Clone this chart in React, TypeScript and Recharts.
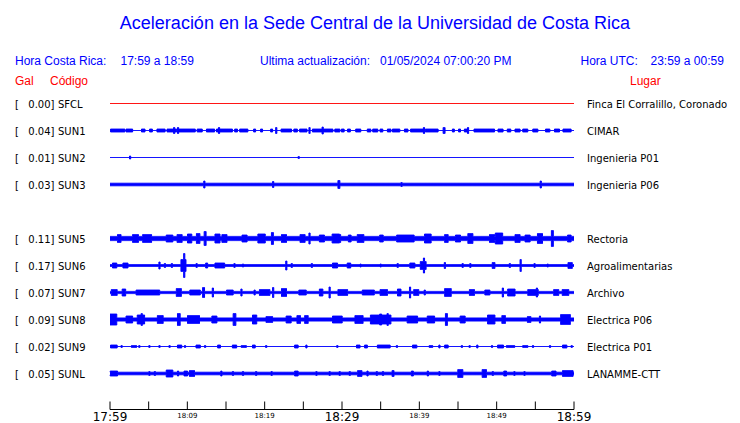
import { ComposedChart, Area, XAxis, YAxis } from 'recharts';

// stations, top to bottom (SUN4 has an empty slot)
const CODES = ['SFCL', 'SUN1', 'SUN2', 'SUN3', 'SUN5', 'SUN6', 'SUN7', 'SUN8', 'SUN9', 'SUNL'];
const PLACES = [
  'Finca El Corralillo, Coronado',
  'CIMAR',
  'Ingenieria P01',
  'Ingenieria P06',
  'Rectoria',
  'Agroalimentarias',
  'Archivo',
  'Electrica P06',
  'Electrica P01',
  'LANAMME-CTT',
];
const GAL = [0.0, 0.04, 0.01, 0.03, 0.11, 0.17, 0.07, 0.09, 0.02, 0.05];
const SLOTS = [0, 1, 2, 3, 5, 6, 7, 8, 9, 10];

// background half amplitude of each trace
const BASE = [0, 0, 0, 1.3, 2.1, 1.0, 1.1, 1.6, 0, 1.3];

// bursts: [minute after 17:59, half amplitude, duration in minutes]
const SFCL_BURSTS: number[][] = [];
const SUN1_BURSTS = [
  [1.0, 1.5, 1.8], [2.5, 1.5, 0.8], [4.3, 1.5, 0.4], [5.3, 1.5, 0.3], [6.6, 1.5, 1.0],
  [8.0, 1.5, 1.2], [8.3, 3, 0.1], [8.8, 3, 0.1], [9.9, 1.5, 2.2], [11.6, 1.5, 0.6],
  [13.0, 1.5, 1.0], [14.1, 3, 0.1], [14.8, 1.5, 2.0], [16.3, 1.5, 0.3], [17.3, 1.5, 1.0],
  [18.7, 1.5, 0.2], [19.6, 1.5, 0.2], [20.9, 1.5, 0.2], [21.5, 3, 0.1], [22.8, 1.5, 1.3],
  [24.0, 1.5, 0.4], [25.0, 1.5, 0.9], [25.8, 3, 0.1], [27.5, 1.5, 2.6], [27.5, 3.5, 0.1],
  [29.4, 1.5, 0.6], [30.1, 1.5, 0.3], [30.9, 1.5, 0.3], [32.1, 1.5, 0.6], [33.5, 1.5, 0.4],
  [34.3, 1.5, 0.6], [35.1, 1.5, 0.3], [36.1, 1.5, 0.4], [37.0, 1.5, 0.9], [38.3, 1.5, 0.4],
  [39.8, 1.5, 1.8], [40.6, 3, 0.1], [41.6, 1.5, 1.6], [43.2, 3, 0.2], [44.4, 1.5, 0.2],
  [45.2, 1.5, 0.2], [46.0, 1.5, 0.3], [46.3, 3, 0.1], [48.4, 1.5, 2.6], [50.5, 1.5, 0.6],
  [51.6, 1.5, 0.4], [52.7, 1.5, 0.6], [53.7, 1.5, 0.6], [55.0, 1.5, 0.6], [56.6, 1.5, 0.5],
  [57.8, 1.5, 0.6], [59.1, 1.5, 1.0],
];
const SUN2_BURSTS = [[2.6, 1.5, 0.1], [24.4, 1, 0.1]];
const SUN3_BURSTS = [
  [12.2, 3.5, 0.1], [21.1, 3, 0.1], [29.6, 4, 0.2], [37.7, 2, 0.1], [55.7, 3.5, 0.1],
];
const SUN5_BURSTS = [
  [1.2, 4, 0.4], [3.3, 4, 0.7], [4.8, 4, 1.1], [7.7, 3.5, 0.8], [9.0, 4, 0.6],
  [10.3, 4.5, 0.5], [11.4, 5, 0.4], [12.3, 7, 0.2], [13.9, 4.5, 0.6], [14.8, 4, 0.6],
  [17.4, 3.5, 0.6], [19.6, 4.5, 0.9], [21.0, 6, 0.2], [22.5, 4, 0.6], [24.9, 4, 0.6],
  [25.8, 5.5, 0.1], [27.4, 3.5, 0.6], [29.2, 4.5, 0.9], [29.6, 4, 0.4], [31.0, 3.5, 0.3],
  [32.4, 4, 0.8], [35.1, 3.5, 0.4], [38.2, 3.5, 2.2], [41.1, 4.5, 0.8], [43.5, 4, 0.4],
  [45.0, 3.5, 0.6], [46.6, 5, 0.6], [49.4, 4, 0.6], [50.3, 5.5, 0.9], [52.7, 4, 0.6],
  [54.0, 3.5, 0.6], [55.6, 5, 0.6], [57.2, 8, 0.2], [59.4, 3.5, 0.4],
];
const SUN6_BURSTS = [
  [0.6, 2.5, 0.5], [2.0, 2.5, 0.6], [6.4, 3.5, 0.1], [7.1, 2, 0.1], [8.0, 2, 0.1],
  [9.5, 6, 0.6], [9.6, 12, 0.1], [11.2, 2, 0.1], [12.5, 2.5, 0.2], [14.2, 2.5, 1.2],
  [16.1, 2, 0.1], [17.2, 1.5, 0.1], [22.8, 4.5, 0.1], [23.5, 2, 0.1], [26.1, 2, 0.1],
  [29.1, 2.5, 0.6], [30.9, 2.5, 0.4], [32.4, 1.5, 0.1], [35.0, 1.5, 0.1], [37.2, 2, 0.1],
  [39.1, 2.5, 0.6], [40.5, 4, 0.7], [40.6, 7.5, 0.1], [43.3, 3, 0.1], [45.6, 2, 0.1],
  [46.6, 2, 0.1], [49.6, 3, 0.3], [51.7, 2, 0.1], [53.1, 6, 0.1], [54.9, 2, 0.1],
  [56.6, 1.5, 0.1], [59.5, 3, 0.5],
];
const SUN7_BURSTS = [
  [0.55, 3, 0.7], [1.8, 3.5, 0.4], [4.9, 2.5, 3.0], [8.9, 4, 0.6], [11.0, 2.5, 1.3],
  [12.1, 5, 0.2], [13.3, 4.5, 0.1], [15.5, 2.5, 0.8], [17.0, 3.5, 0.1], [18.7, 2.5, 0.1],
  [20.0, 3, 1.3], [21.1, 5, 0.1], [22.5, 4, 0.6], [24.9, 2.5, 0.9], [27.3, 3.5, 0.4],
  [28.4, 5.5, 0.1], [30.1, 3, 1.2], [33.4, 2.5, 1.5], [35.4, 3, 0.9], [37.4, 3.5, 0.4],
  [38.8, 5.5, 0.1], [39.6, 3, 0.6], [40.7, 2.5, 0.1], [43.7, 4, 0.8], [46.8, 3, 0.6],
  [48.8, 2.5, 0.6], [50.8, 4.5, 0.1], [51.9, 3.5, 0.9], [54.7, 3, 1.3], [55.2, 4.5, 0.1],
  [57.7, 3, 0.6], [58.9, 3, 0.8],
];
const SUN8_BURSTS = [
  [0.4, 5.5, 0.9], [2.5, 3.5, 0.8], [4.0, 4.5, 0.9], [4.1, 6, 0.1], [6.5, 4, 0.7],
  [8.9, 6, 0.3], [10.8, 4, 1.5], [13.5, 3.5, 0.6], [16.1, 6, 0.3], [18.7, 4.5, 0.5],
  [20.6, 3, 0.8], [23.1, 3.5, 0.6], [24.4, 4, 0.4], [25.4, 4, 0.4], [29.2, 3.5, 0.8],
  [29.7, 3.5, 0.6], [32.2, 4, 1.0], [35.0, 4.5, 2.6], [35.0, 5.5, 0.2], [35.9, 6, 0.1],
  [39.1, 3.5, 1.3], [41.5, 3.5, 0.9], [43.5, 6, 0.2], [45.6, 3.5, 0.6], [49.3, 4.5, 0.9],
  [50.9, 4, 0.4], [54.2, 3, 0.4], [55.6, 3.5, 0.1], [58.9, 5, 1.2],
];
const SUN9_BURSTS = [
  [0.5, 1.5, 0.8], [1.5, 1, 0.1], [3.1, 1, 0.6], [3.8, 1, 0.1], [5.1, 1, 0.1],
  [6.4, 1, 0.1], [7.7, 1, 0.1], [9.0, 1.5, 0.5], [9.7, 1, 0.1], [11.4, 1.5, 0.5],
  [12.3, 1, 0.1], [14.1, 1.5, 0.3], [16.1, 1.5, 0.5], [17.3, 1, 0.6], [18.6, 1.5, 0.3],
  [20.2, 1, 0.1], [24.1, 1.5, 0.4], [25.4, 1.5, 0.1], [29.4, 1, 0.1], [32.1, 1.5, 0.4],
  [33.1, 1.5, 0.3], [35.4, 1.5, 1.6], [37.1, 1, 0.1], [39.4, 1.5, 0.5], [41.5, 1, 0.4],
  [42.6, 1.5, 0.1], [43.5, 1.5, 0.4], [45.5, 1, 0.1], [46.5, 1, 0.1], [47.5, 1.5, 0.1],
  [49.4, 1, 0.1], [50.5, 1.5, 0.7], [51.8, 1, 1.0], [53.7, 1, 0.6], [54.7, 1, 0.1],
  [56.9, 1, 0.1], [58.8, 1.5, 0.5], [59.7, 1, 0.1],
];
const SUNL_BURSTS = [
  [0.5, 2.5, 0.9], [5.1, 2, 0.1], [5.8, 2, 0.1], [7.7, 3.5, 0.8], [8.8, 2.5, 0.1],
  [9.8, 2.5, 0.4], [10.6, 3, 0.6], [14.4, 2.5, 0.1], [15.9, 2, 0.1], [17.2, 2, 0.1],
  [18.9, 2, 0.1], [20.9, 2, 0.1], [24.1, 2.5, 0.4], [26.7, 2, 0.1], [28.4, 2, 0.1],
  [29.7, 2, 0.1], [31.0, 2, 0.1], [32.3, 3, 0.5], [33.3, 2.5, 0.1], [34.5, 2, 0.1],
  [35.3, 2, 0.1], [36.6, 3, 0.2], [39.1, 2.5, 0.2], [41.1, 2.5, 0.1], [42.6, 2, 0.1],
  [45.3, 4, 0.6], [48.4, 4, 0.5], [49.5, 2, 0.1], [51.1, 2.5, 0.3], [52.3, 2, 0.1],
  [53.6, 2, 0.1], [57.4, 2.5, 0.5], [59.2, 3, 1.3],
];
const BURSTS = [
  SFCL_BURSTS, SUN1_BURSTS, SUN2_BURSTS, SUN3_BURSTS, SUN5_BURSTS,
  SUN6_BURSTS, SUN7_BURSTS, SUN8_BURSTS, SUN9_BURSTS, SUNL_BURSTS,
];

const TIME_TICKS = [0, 5, 10, 15, 20, 25, 30, 35, 40, 45, 50, 55, 60];
const TIME_LABELS = ['17:59', '', '18:09', '', '18:19', '', '18:29', '', '18:39', '', '18:49', '', '18:59'];
const MAJOR_TICKS = [0, 30, 60];

const ROW_GAP = 27;
const STEP = 0.05;
const BLUE = '#0000ff';
const RED = '#ff0000';

// envelope table: one row per time step, [low, high] per station
const data: Record<string, number | number[]>[] = [];
for (let i = 0; i <= 60 / STEP; i++) {
  const t = i * STEP;
  const row: Record<string, number | number[]> = { t };
  CODES.forEach((code, s) => {
    let amp = BASE[s];
    for (const [m, a, w] of BURSTS[s]) {
      if (Math.abs(t - m) <= w / 2 + 1e-6 && a > amp) amp = a;
    }
    const mid = -SLOTS[s] * ROW_GAP;
    row[code] = [mid - amp, mid + amp];
  });
  data.push(row);
}

const ROW_TICKS = SLOTS.map((s) => -s * ROW_GAP);

function stationOf(value: number) {
  return SLOTS.indexOf(Math.round(-value / ROW_GAP));
}

function LeftTick({ x, y, payload }: any) {
  const s = stationOf(payload.value);
  if (s < 0) return null;
  return (
    <g fontFamily="DejaVu Sans" fontSize={10} fill="#000">
      <text x={x - 95} y={y + 4}>[</text>
      <text x={x - 55.5} y={y + 4} textAnchor="end">{GAL[s].toFixed(2)}]</text>
      <text x={x - 52} y={y + 4}>{CODES[s]}</text>
    </g>
  );
}

function RightTick({ x, y, payload }: any) {
  const s = stationOf(payload.value);
  if (s < 0) return null;
  return (
    <text x={x} y={y + 4} fontFamily="DejaVu Sans" fontSize={10} fill="#000">
      {PLACES[s]}
    </text>
  );
}

function TimeTick({ x, y, payload }: any) {
  const i = TIME_TICKS.indexOf(payload.value);
  const label = TIME_LABELS[i];
  const major = MAJOR_TICKS.includes(payload.value);
  return (
    <g>
      <line x1={x} x2={x} y1={y - 8} y2={y} stroke="#000" strokeWidth={1} />
      {label && (
        <text
          x={x}
          y={major ? y + 11 : y + 8}
          textAnchor="middle"
          fontFamily="DejaVu Sans"
          fontSize={major ? 12 : 7}
          fill="#000"
        >
          {label}
        </text>
      )}
    </g>
  );
}

export default function App() {
  return (
    <div style={{ position: 'absolute', left: 0, top: 0, width: 740, height: 423, background: '#fff' }}>
      <ComposedChart
        width={740}
        height={423}
        data={data}
        margin={{ top: 90, right: 0, bottom: 0, left: 0 }}
      >
        <XAxis
          dataKey="t"
          type="number"
          domain={[0, 60]}
          ticks={TIME_TICKS}
          interval={0}
          height={13.5}
          tickSize={0}
          tickMargin={0}
          tickLine={false}
          axisLine={{ stroke: '#000', strokeWidth: 1 }}
          tick={<TimeTick />}
        />
        <YAxis
          yAxisId="left"
          type="number"
          domain={[-306, 13.5]}
          allowDataOverflow
          ticks={ROW_TICKS}
          interval={0}
          width={110}
          tickSize={0}
          tickMargin={0}
          axisLine={false}
          tickLine={false}
          tick={<LeftTick />}
        />
        <YAxis
          yAxisId="right"
          orientation="right"
          type="number"
          domain={[-306, 13.5]}
          allowDataOverflow
          ticks={ROW_TICKS}
          interval={0}
          width={166}
          tickSize={0}
          tickMargin={13}
          axisLine={false}
          tickLine={false}
          tick={<RightTick />}
        />
        {CODES.map((code, s) => (
          <Area
            key={code}
            yAxisId="left"
            dataKey={code}
            type="step"
            stroke={s === 0 ? RED : BLUE}
            strokeWidth={1}
            fill={s === 0 ? RED : BLUE}
            fillOpacity={1}
            dot={false}
            activeDot={false}
            isAnimationActive={false}
          />
        ))}
      </ComposedChart>
      <svg
        width={740}
        height={423}
        style={{ position: 'absolute', left: 0, top: 0, pointerEvents: 'none' }}
        fontFamily="Liberation Sans"
      >
        <text x={375} y={28.5} textAnchor="middle" fontSize={18} fill={BLUE}>
          Aceleración en la Sede Central de la Universidad de Costa Rica
        </text>
        <g fontSize={12} fill={BLUE}>
          <text x={15} y={65}>Hora Costa Rica:</text>
          <text x={120.5} y={65}>17:59 a 18:59</text>
          <text x={260} y={65}>Ultima actualización:</text>
          <text x={380} y={65}>01/05/2024 07:00:20 PM</text>
          <text x={580.5} y={65}>Hora UTC:</text>
          <text x={650.5} y={65}>23:59 a 00:59</text>
        </g>
        <g fontSize={12} fill={RED}>
          <text x={15} y={85}>Gal</text>
          <text x={50} y={85}>Código</text>
          <text x={630} y={85}>Lugar</text>
        </g>
      </svg>
    </div>
  );
}
